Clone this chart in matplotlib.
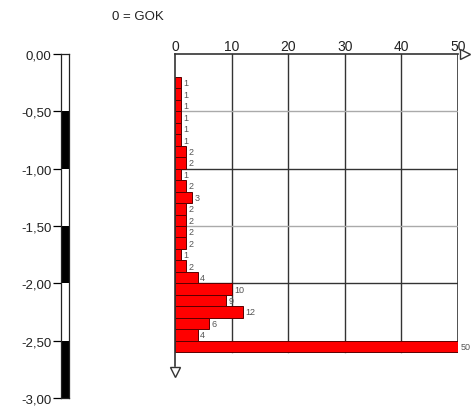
import numpy as np
import matplotlib.pyplot as plt

plt.rcParams['font.family'] = ['Liberation Sans', 'DejaVu Sans']

# --- data ---
layer_top = [-0.2, -0.3, -0.4, -0.5, -0.6, -0.7, -0.8, -0.9, -1.0, -1.1, -1.2, -1.3,
             -1.4, -1.5, -1.6, -1.7, -1.8, -1.9, -2.0, -2.1, -2.2, -2.3, -2.4, -2.5]
counts = [1, 1, 1, 1, 1, 1, 2, 2, 1, 2, 3, 2, 2, 2, 2, 1, 2, 4, 10, 9, 12, 6, 4, 50]
layer_height = 0.1
x_ticks = [0, 10, 20, 30, 40, 50]
depth_ticks = [0.0, -0.5, -1.0, -1.5, -2.0, -2.5, -3.0]
depth_labels = ['0,00', '-0,50', '-1,00', '-1,50', '-2,00', '-2,50', '-3,00']
dark_rows = [-1.0, -2.0]
light_rows = [-0.5, -1.5]

W, H = 476, 410
fig = plt.figure(figsize=(W / 100, H / 100), dpi=100)

y0_px, y3_px = 55, 399          # pixel rows of depth 0 and -3
bottom = 1 - y3_px / H
height = (y3_px - y0_px) / H

# --- left depth scale ---
axl = fig.add_axes([61 / W, bottom, 8 / W, height])
axl.set_xlim(0, 1)
axl.set_ylim(-3, 0)
for i in range(6):
    top = -0.5 * i
    col = 'white' if i % 2 == 0 else 'black'
    axl.bar(0.5, -0.5, bottom=top, width=1, color=col, edgecolor='none')
for s in ['top', 'right', 'bottom', 'left']:
    axl.spines[s].set_color('#222222')
    axl.spines[s].set_linewidth(0.9)
axl.set_xticks([])
axl.set_yticks(depth_ticks)
axl.set_yticklabels(depth_labels, fontsize=9.5, color='#222222')
axl.tick_params(axis='y', length=6, width=0.9, pad=1)

# --- main histogram ---
ax = fig.add_axes([175 / W, bottom, (458 - 175) / W, height])
ax.set_xlim(0, 50)
ax.set_ylim(-3, 0)
for s in ax.spines.values():
    s.set_visible(False)

frame_bottom = -2.6
for x in x_ticks[1:-1]:
    ax.plot([x, x], [0, frame_bottom], color='#333333', lw=1.0, zorder=1)
ax.plot([50, 50], [0, frame_bottom], color='#333333', lw=1.2, zorder=1)
for y in dark_rows:
    ax.plot([0, 50], [y, y], color='#333333', lw=1.0, zorder=1)
for y in light_rows:
    ax.plot([0, 50], [y, y], color='#aaaaaa', lw=1.0, zorder=1)
ax.plot([0, 50], [0, 0], color='#333333', lw=1.2, zorder=3, clip_on=False)

ax.barh(layer_top, counts, height=-layer_height, align='edge',
        color='#ff0000', edgecolor='#5a0000', linewidth=0.7, zorder=2)
for yt, c in zip(layer_top, counts):
    ax.text(c + 0.4, yt - layer_height / 2, str(c), fontsize=6.5, color='#555555',
            va='center', ha='left', zorder=4, clip_on=False)

ax.plot([0, 0], [0, -2.72], color='#333333', lw=1.2, zorder=3, clip_on=False)
ax.plot([51.2], [0], marker='>', markersize=7, markerfacecolor='white',
        markeredgecolor='#333333', clip_on=False, zorder=5)
ax.plot([0], [-2.77], marker='v', markersize=7, markerfacecolor='white',
        markeredgecolor='#333333', clip_on=False, zorder=5)

ax.xaxis.tick_top()
ax.set_xticks(x_ticks)
ax.set_xticklabels([str(v) for v in x_ticks], fontsize=10, color='#222222')
ax.tick_params(axis='x', length=0, pad=1)
ax.set_yticks([])

fig.text(112 / W, 1 - 17 / H, '0 = GOK', fontsize=9.5, va='center', ha='left',
         color='#222222')

fig.savefig('out.png', dpi=100)
